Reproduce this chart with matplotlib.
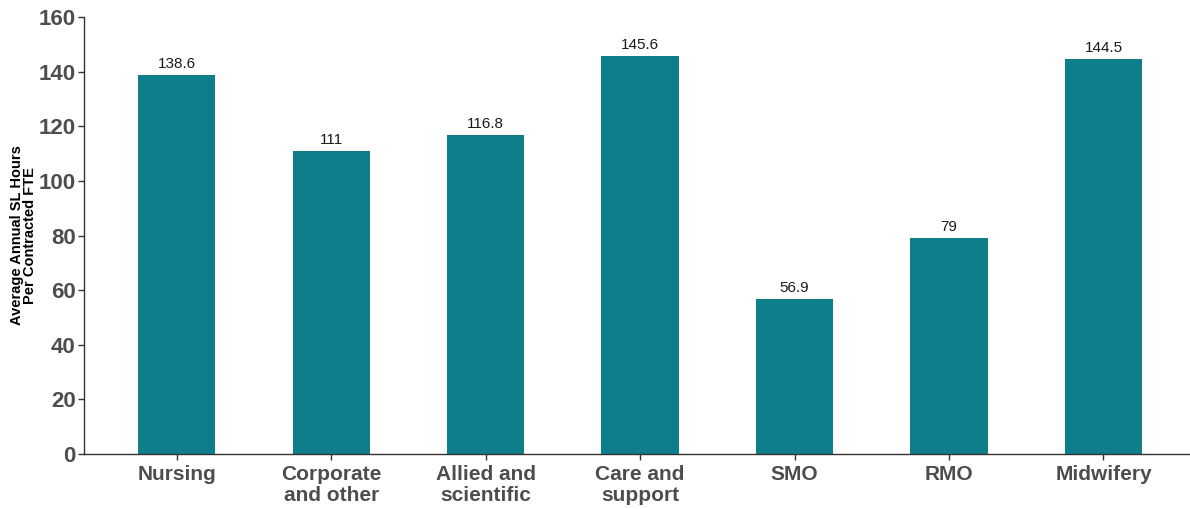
import matplotlib
matplotlib.use('Agg')
import matplotlib.pyplot as plt

categories = ['Nursing', 'Corporate\nand other', 'Allied and\nscientific',
              'Care and\nsupport', 'SMO', 'RMO', 'Midwifery']
values = [138.6, 111, 116.8, 145.6, 56.9, 79, 144.5]
labels = ['138.6', '111', '116.8', '145.6', '56.9', '79', '144.5']
yticks = [0, 20, 40, 60, 80, 100, 120, 140, 160]

plt.rcParams['font.family'] = ['Liberation Sans', 'DejaVu Sans']

fig = plt.figure(figsize=(11.9, 5.09), dpi=100)
ax = fig.add_axes([0.0706, 0.108, 0.9294, 0.8586])

x = range(len(categories))
bars = ax.bar(x, values, width=0.5, color='#0E7F8A')
for b, lab in zip(bars, labels):
    ax.text(b.get_x() + b.get_width() / 2, b.get_height() + 1.5, lab,
            ha='center', va='bottom', fontsize=11, color='#1a1a1a')

ax.set_xlim(-0.6, 6.56)
ax.set_ylim(0, 160)
ax.set_yticks(yticks)
ax.set_xticks(list(x))
ax.set_xticklabels(categories, fontsize=15, fontweight='bold', color='#4D4D4D',
                   linespacing=1.1)
ax.set_yticklabels([str(t) for t in yticks], fontsize=16, fontweight='bold',
                   color='#4D4D4D')
ax.tick_params(axis='both', length=4, width=1, color='#333333')
ax.tick_params(axis='x', pad=4)
ax.tick_params(axis='y', pad=2)

for s in ['top', 'right']:
    ax.spines[s].set_visible(False)
for s in ['left', 'bottom']:
    ax.spines[s].set_color('#333333')
    ax.spines[s].set_linewidth(1)

ax.set_ylabel('Average Annual SL Hours\nPer Contracted FTE', fontsize=10.5,
              fontweight='bold', color='black', linespacing=0.95, labelpad=1)

fig.savefig('out.png', dpi=100)
